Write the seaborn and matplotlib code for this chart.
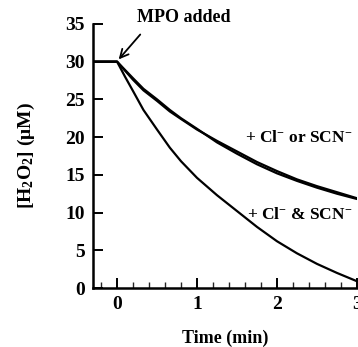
import matplotlib
matplotlib.use("Agg")
import matplotlib.pyplot as plt
from matplotlib.ticker import MultipleLocator
import seaborn as sns
import pandas as pd

# time (min) and [H2O2] (uM)
time_min = [-0.3, 0.0, 0.1, 0.2, 0.33, 0.5, 0.66, 0.8, 1.0, 1.25, 1.5,
            1.75, 2.0, 2.25, 2.5, 2.75, 3.0]
h2o2_cl = [30, 30, 28.8, 27.6, 26.2, 24.8, 23.4, 22.4, 21.0, 19.5, 18.1,
           16.7, 15.5, 14.4, 13.5, 12.7, 11.9]
h2o2_scn = [30, 30, 28.9, 27.8, 26.4, 25.0, 23.6, 22.5, 21.1, 19.3, 17.8,
            16.4, 15.2, 14.2, 13.3, 12.5, 11.8]
h2o2_both = [30, 30, 28.0, 26.1, 23.6, 21.0, 18.6, 16.8, 14.6, 12.3, 10.2,
             8.1, 6.2, 4.6, 3.2, 2.0, 0.9]

sns.set_style("ticks")
plt.rcParams['font.family'] = ['Liberation Serif', 'DejaVu Serif']
plt.rcParams['font.weight'] = 'bold'
plt.rcParams['text.color'] = 'black'
plt.rcParams['axes.labelcolor'] = 'black'
plt.rcParams['mathtext.fontset'] = 'custom'
plt.rcParams['mathtext.rm'] = 'Liberation Serif:bold'
plt.rcParams['mathtext.it'] = 'Liberation Serif:bold'
plt.rcParams['mathtext.bf'] = 'Liberation Serif:bold'

df = pd.concat([
    pd.DataFrame({"t": time_min, "h2o2": h2o2_cl, "cond": "Cl"}),
    pd.DataFrame({"t": time_min, "h2o2": h2o2_scn, "cond": "SCN"}),
    pd.DataFrame({"t": time_min, "h2o2": h2o2_both, "cond": "both"}),
])

fig = plt.figure(figsize=(3.58, 3.47), dpi=100)
ax = fig.add_axes([0.26, 0.17, 0.737, 0.761])
sns.lineplot(data=df, x="t", y="h2o2", units="cond", estimator=None,
             color="black", lw=1.6, ax=ax)

ax.set_xlim(-0.3, 3.0)
ax.set_ylim(0, 35)
ax.xaxis.set_major_locator(MultipleLocator(1))
ax.xaxis.set_minor_locator(MultipleLocator(0.2))
ax.yaxis.set_major_locator(MultipleLocator(5))
sns.despine(ax=ax)
for s in ["left", "bottom"]:
    ax.spines[s].set_linewidth(1.8)
    ax.spines[s].set_color("black")
ax.tick_params(which="major", direction="in", length=7, width=1.4,
               labelsize=14, colors="black", pad=6)
ax.tick_params(which="minor", direction="in", length=4, width=1.0)
for lab in ax.get_xticklabels() + ax.get_yticklabels():
    lab.set_fontweight("bold")

ax.set_xlabel("Time (min)", fontsize=13, fontweight="bold", labelpad=12)
ax.set_ylabel("[H$_2$O$_2$] (μM)", fontsize=14, fontweight="bold", labelpad=20)

ax.text(0.84, 35.9, "MPO added", fontsize=13, fontweight="bold",
        ha="center", va="center", clip_on=False)
ax.annotate("", xy=(0.02, 30.3), xytext=(0.29, 33.6),
            arrowprops=dict(arrowstyle="->,head_length=0.6,head_width=0.3",
                            lw=1.3, color="black", shrinkA=0, shrinkB=0),
            annotation_clip=False)
ax.text(1.6, 19.9, "+ Cl$^{-}$ or SCN$^{-}$", fontsize=12.5, fontweight="bold",
        ha="left", va="center")
ax.text(1.63, 9.7, "+ Cl$^{-}$ & SCN$^{-}$", fontsize=12.5, fontweight="bold",
        ha="left", va="center")

fig.savefig("out.png", dpi=100)
